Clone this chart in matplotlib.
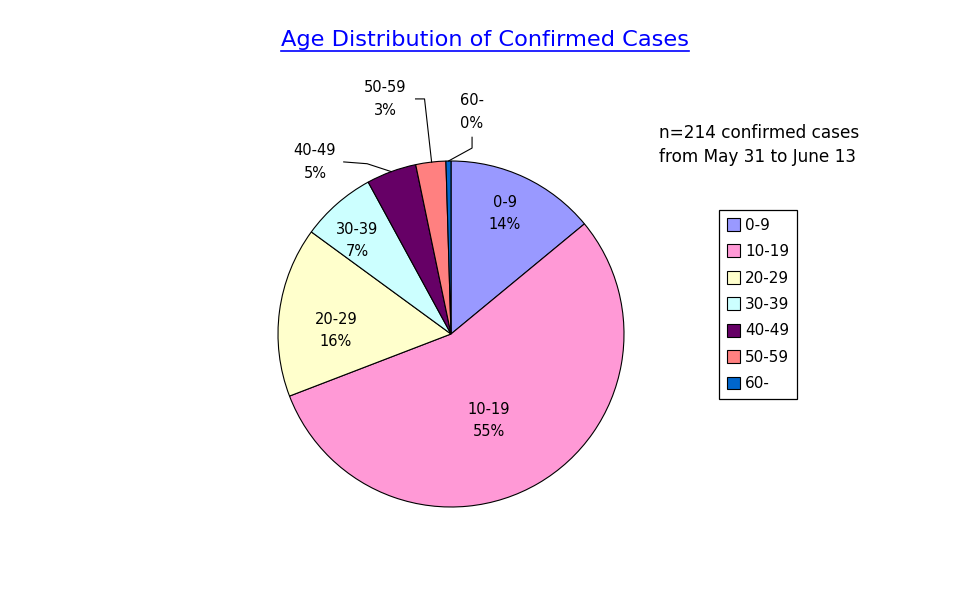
import numpy as np
import matplotlib.pyplot as plt

# データ（n=214）
groups = ['0-9', '10-19', '20-29', '30-39', '40-49', '50-59', '60-']
counts = [30, 118, 34, 15, 10, 6, 1]
colors = ['#9999FF', '#FF99D6', '#FFFFCC', '#CCFFFF', '#660066', '#FF8080', '#0066CC']

# ラベル位置（円の中心からの相対位置、半径=1）と引き出し線の有無
label_pos = [(0.30, 0.67), (0.21, -0.48), (-0.64, 0.02), (-0.52, 0.52),
             (-0.756, 0.956), (-0.367, 1.306), (0.117, 1.233)]
outside = [False, False, False, False, True, True, True]

plt.rcParams['font.family'] = ['DejaVu Sans']

fig = plt.figure(figsize=(9.7, 6.03), dpi=100)
ax = fig.add_axes([(451 - 180) / 970, (603 - 334 - 180) / 603, 360 / 970, 360 / 603])
R = 173 / 180

wedges, _ = ax.pie(counts, colors=colors, startangle=90, counterclock=False,
                   radius=R, wedgeprops=dict(edgecolor='black', linewidth=0.8))
ax.set_xlim(-1, 1)
ax.set_ylim(-1, 1)
ax.set_aspect('equal')
ax.axis('off')

total = sum(counts)
for w, g, c, (lx, ly), out in zip(wedges, groups, counts, label_pos, outside):
    pct = round(100 * c / total)
    ax.text(lx, ly, f'{g}\n{pct}%', ha='center', va='center', fontsize=10.5,
            linespacing=1.6, clip_on=False)
    if out:
        mid = np.deg2rad((w.theta1 + w.theta2) / 2)
        ex, ey = R * np.cos(mid), R * np.sin(mid)
        if lx < ex - 0.3:
            # 左のラベル：横に引いてから斜めに
            x0 = lx + 0.16
            ax.plot([x0, x0 + 0.13, ex], [ly, ly - 0.01, ey], color='black', lw=0.8, clip_on=False)
        else:
            # 上のラベル：横から下へ
            if lx < ex:
                x0 = lx + 0.17
                ax.plot([x0, x0 + 0.05, ex + 0.005], [ly, ly, ey], color='black', lw=0.8, clip_on=False)
            else:
                ax.plot([lx, lx, ex], [ly - 0.14, ly - 0.2, ey], color='black', lw=0.8, clip_on=False)

# タイトル（下線付き）
title = fig.text(485 / 970, 1 - 40 / 603, 'Age Distribution of Confirmed Cases',
                 ha='center', va='center', fontsize=16.2, color='#0000FF')
fig.canvas.draw()
bb = title.get_window_extent().transformed(fig.transFigure.inverted())
fig.add_artist(plt.Line2D([bb.x0, bb.x1], [bb.y0 - 0.002, bb.y0 - 0.002],
                          color='#0000FF', lw=1.2, transform=fig.transFigure))

fig.text(659 / 970, 1 - 145 / 603, 'n=214 confirmed cases\nfrom May 31 to June 13',
         ha='left', va='center', fontsize=12.2, linespacing=1.4)

leg = fig.legend(wedges, groups, loc='upper left',
                 bbox_to_anchor=(719 / 970, 1 - 210 / 603),
                 fontsize=11, frameon=True, fancybox=False, edgecolor='black',
                 framealpha=1, handlelength=0.9, handleheight=0.9, handletextpad=0.3,
                 labelspacing=0.75, borderpad=0.5, borderaxespad=0)
leg.get_frame().set_linewidth(0.9)

fig.savefig('out.png', dpi=100)
